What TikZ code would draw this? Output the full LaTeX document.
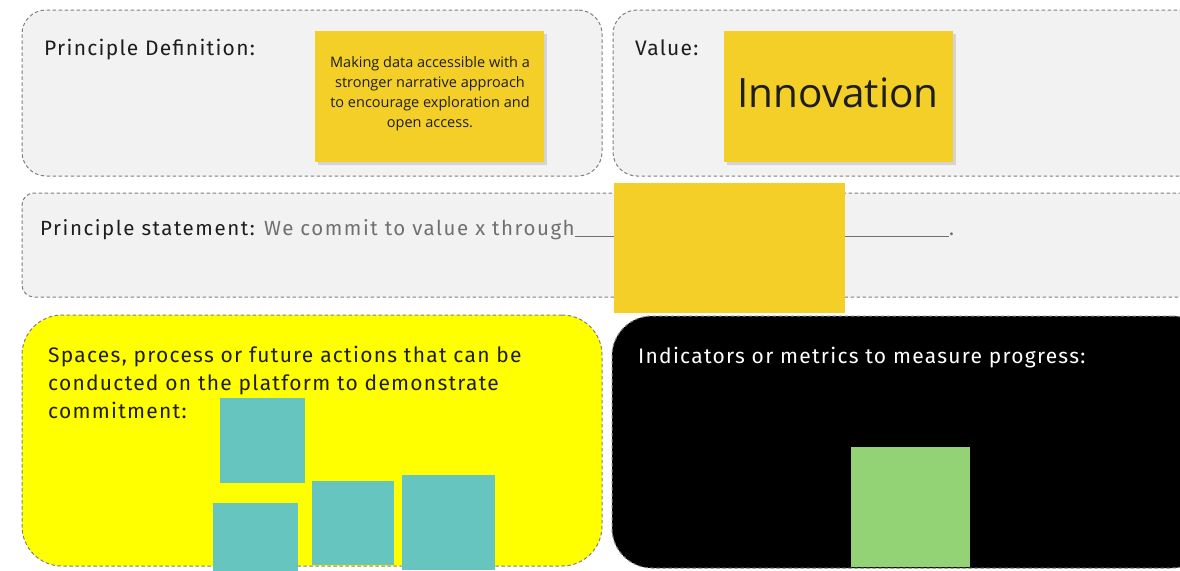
\documentclass[tikz,border=0pt]{standalone}
\usepackage{fontspec}
\setmainfont{PT Sans}
\newfontfamily\headfont[LetterSpace=6]{Fira Sans}
\newfontfamily\stmtfont[LetterSpace=7.5]{Fira Sans}
\newfontfamily\notefont{Open Sans}
\definecolor{panelgray}{HTML}{F2F2F2}
\definecolor{bordergray}{HTML}{808080}
\definecolor{stickyyellow}{HTML}{F4CF27}
\definecolor{tealnote}{HTML}{67C5C0}
\definecolor{greennote}{HTML}{93D275}
\definecolor{brightyellow}{HTML}{FFFF00}
\definecolor{stmtgray}{HTML}{707070}
\definecolor{headtext}{HTML}{1E1E1E}
\begin{document}
\begin{tikzpicture}[x=1pt,y=-1pt,
  panel/.style={draw=bordergray, dash pattern=on 3.5pt off 2.5pt, line width=1pt, anchor=north west, inner sep=0pt, outer sep=0pt},
  sticky/.style={anchor=north west, inner sep=0pt, outer sep=0pt, draw=none},
  shadowbox/.style={fill=black, opacity=0.12, draw=none},
  heading/.style={anchor=base west, inner sep=0pt, font=\headfont\fontsize{21}{24}\selectfont, text=headtext},
]
\useasboundingbox (0,0) rectangle (1180,570);
\clip (0,0) rectangle (1180,570);
\fill[white] (0,0) rectangle (1180,570);

% panels
\node[panel, fill=panelgray, rounded corners=24pt, minimum width=580pt, minimum height=166pt] (defpanel) at (22,10) {};
\node[panel, fill=panelgray, rounded corners=24pt, minimum width=600pt, minimum height=166pt] (valpanel) at (613,10) {};
\node[panel, fill=panelgray, rounded corners=12pt, minimum width=1190pt, minimum height=104pt] (stmtpanel) at (22,193) {};
\node[panel, fill=brightyellow, rounded corners=40pt, minimum width=580pt, minimum height=251pt] (actpanel) at (22,315) {};
\node[panel, fill=black, rounded corners=40pt, minimum width=600pt, minimum height=252pt] (metpanel) at (612,316) {};

% headings
\node[heading] (deftitle) at (44,55) {Principle Definition:};
\node[heading] (valtitle) at (635,55) {Value:};
\node[heading, font=\stmtfont\fontsize{20.5}{23}\selectfont] (stmttext) at (40,235) {Principle statement: \textcolor{stmtgray}{We commit to value x through}};
\node[heading, font=\stmtfont\fontsize{20.5}{23}\selectfont, text=stmtgray] (stmtdot) at (949,235) {.};
\draw[stmtgray, line width=0.7pt] ([yshift=-1pt]stmttext.base east) -- ([yshift=-1pt]stmtdot.base west);
\node[heading, align=left, font=\headfont\fontsize{21}{28}\selectfont] (acttitle) at (48,418) {Spaces, process or future actions that can be\\conducted on the platform to demonstrate\\commitment:};
\node[heading, text=white] (mettitle) at (638,363) {Indicators or metrics to measure progress:};

% sticky notes with faint shadows
\fill[shadowbox] (318,34) rectangle (547,165);
\node[sticky, fill=stickyyellow, minimum width=229pt, minimum height=131pt] (defnote) at (315,31) {};
\node[align=center, font=\notefont\fontsize{14.5}{20}\selectfont, text=headtext] (deftext) at (430,94) {Making data accessible with a\\stronger narrative approach\\to encourage exploration and\\open access.};

\fill[shadowbox] (727,34) rectangle (956,165);
\node[sticky, fill=stickyyellow, minimum width=229pt, minimum height=131pt] (valnote) at (724,31) {};
\node[anchor=base, inner sep=0pt, font=\notefont\fontsize{40.5}{44}\selectfont, text=headtext] (valtext) at (838,107) {Innovation};

\node[sticky, fill=stickyyellow, minimum width=231pt, minimum height=130pt] (stmtnote) at (614,183) {};

% teal notes
\node[sticky, fill=tealnote, minimum width=85pt, minimum height=85pt] (teal1) at (220,398) {};
\node[sticky, fill=tealnote, minimum width=85pt, minimum height=70pt] (teal2) at (213,503) {};
\node[sticky, fill=tealnote, minimum width=82pt, minimum height=84pt] (teal3) at (312,481) {};
\node[sticky, fill=tealnote, minimum width=93pt, minimum height=95pt] (teal4) at (402,475) {};

% green note
\node[sticky, fill=greennote, minimum width=119pt, minimum height=120pt] (greennoteA) at (851,447) {};
\end{tikzpicture}
\end{document}
